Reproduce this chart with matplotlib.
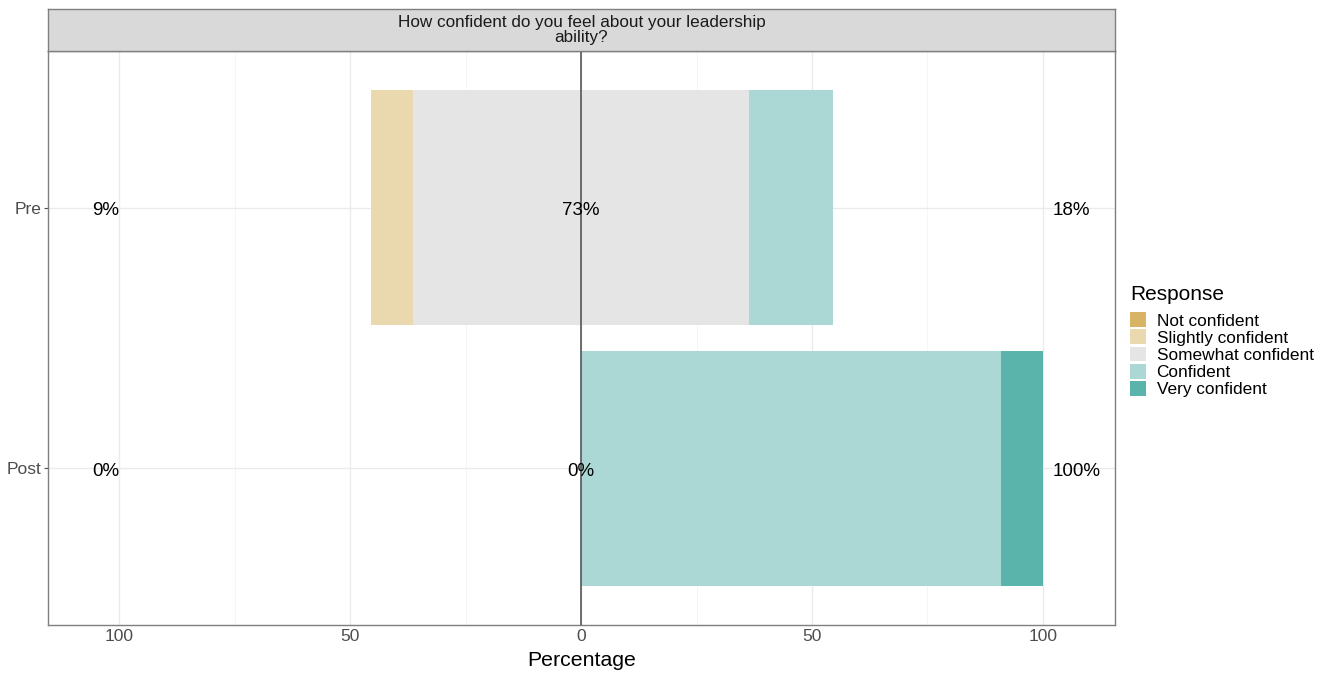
import numpy as np
import matplotlib
matplotlib.use("Agg")
import matplotlib.pyplot as plt

plt.rcParams['font.family'] = ['Liberation Sans', 'DejaVu Sans']

# data (percent of respondents)
groups = ["Post", "Pre"]
responses = ["Not confident", "Slightly confident", "Somewhat confident",
             "Confident", "Very confident"]
colors = ["#D8B365", "#EAD8AE", "#E5E5E5", "#ABD8D4", "#5AB4AC"]
not_conf = [0.0, 0.0]
slightly = [0.0, 9.09]
somewhat = [0.0, 72.73]
confident = [90.91, 18.18]
very = [9.09, 0.0]
title = "How confident do you feel about your leadership\nability?"

fig = plt.figure(figsize=(13.25, 6.78), dpi=100)
W, H = 1325, 678
ax = fig.add_axes([48 / W, (678 - 625) / H, (1115 - 48) / W, (625 - 51) / H])
strip = fig.add_axes([48 / W, (678 - 51) / H, (1115 - 48) / W, (51 - 9) / H])

y = np.arange(1, len(groups) + 1)
nc = np.array(not_conf)
sl = np.array(slightly)
so = np.array(somewhat)
co = np.array(confident)
ve = np.array(very)

lefts = [-so / 2 - sl - nc, -so / 2 - sl, -so / 2, so / 2, so / 2 + co]
widths = [nc, sl, so, co, ve]
handles = []
for i in range(5):
    b = ax.barh(y, widths[i], left=lefts[i], height=0.9, color=colors[i],
                label=responses[i], zorder=2)
    handles.append(b)

ax.axvline(0, color="#555555", lw=1.2, zorder=3)

for yi, l, m, r in zip(y, nc + sl, so, co + ve):
    ax.text(-100, yi - 0.01, f"{l:.0f}%", ha="right", va="center", fontsize=13.5, zorder=4)
    ax.text(0, yi - 0.01, f"{m:.0f}%", ha="center", va="center", fontsize=13.5, zorder=4)
    ax.text(102, yi - 0.01, f"{r:.0f}%", ha="left", va="center", fontsize=13.5, zorder=4)

ax.set_xlim(-115.4, 115.6)
ax.set_ylim(0.4, 2.6)
ax.set_xticks([-100, -50, 0, 50, 100])
ax.set_xticklabels(["100", "50", "0", "50", "100"])
ax.set_xticks([-75, -25, 25, 75], minor=True)
ax.set_yticks(y)
ax.set_yticklabels(groups)
ax.grid(True, which="major", color="#EBEBEB", lw=1.0, zorder=0)
ax.grid(True, which="minor", axis="x", color="#F4F4F4", lw=0.6, zorder=0)
ax.set_axisbelow(True)
ax.tick_params(axis="x", which="both", length=0, labelsize=12.5, colors="#4D4D4D", pad=3)
ax.tick_params(axis="y", length=3, labelsize=12.5, colors="#4D4D4D", pad=2)
for s in ax.spines.values():
    s.set_color("#7F7F7F")
    s.set_linewidth(1.0)
ax.set_xlabel("Percentage", fontsize=15.3, labelpad=5)

strip.set_facecolor("#D9D9D9")
strip.set_xticks([])
strip.set_yticks([])
for s in strip.spines.values():
    s.set_color("#7F7F7F")
    s.set_linewidth(1.0)
strip.text(0.5, 0.5, title, ha="center", va="center", fontsize=12.3,
           color="#1A1A1A", linespacing=0.95, transform=strip.transAxes)

leg = fig.legend(handles=handles, labels=responses, loc="upper left",
                 bbox_to_anchor=(1123 / W, 1 - 278 / H), frameon=False,
                 title="Response", fontsize=12.4, title_fontsize=15,
                 handlelength=0.95, handleheight=0.95, handletextpad=0.6,
                 labelspacing=0.05, borderaxespad=0)
leg._legend_box.align = "left"
leg._legend_box.sep = 6

fig.savefig("out.png", dpi=100)
